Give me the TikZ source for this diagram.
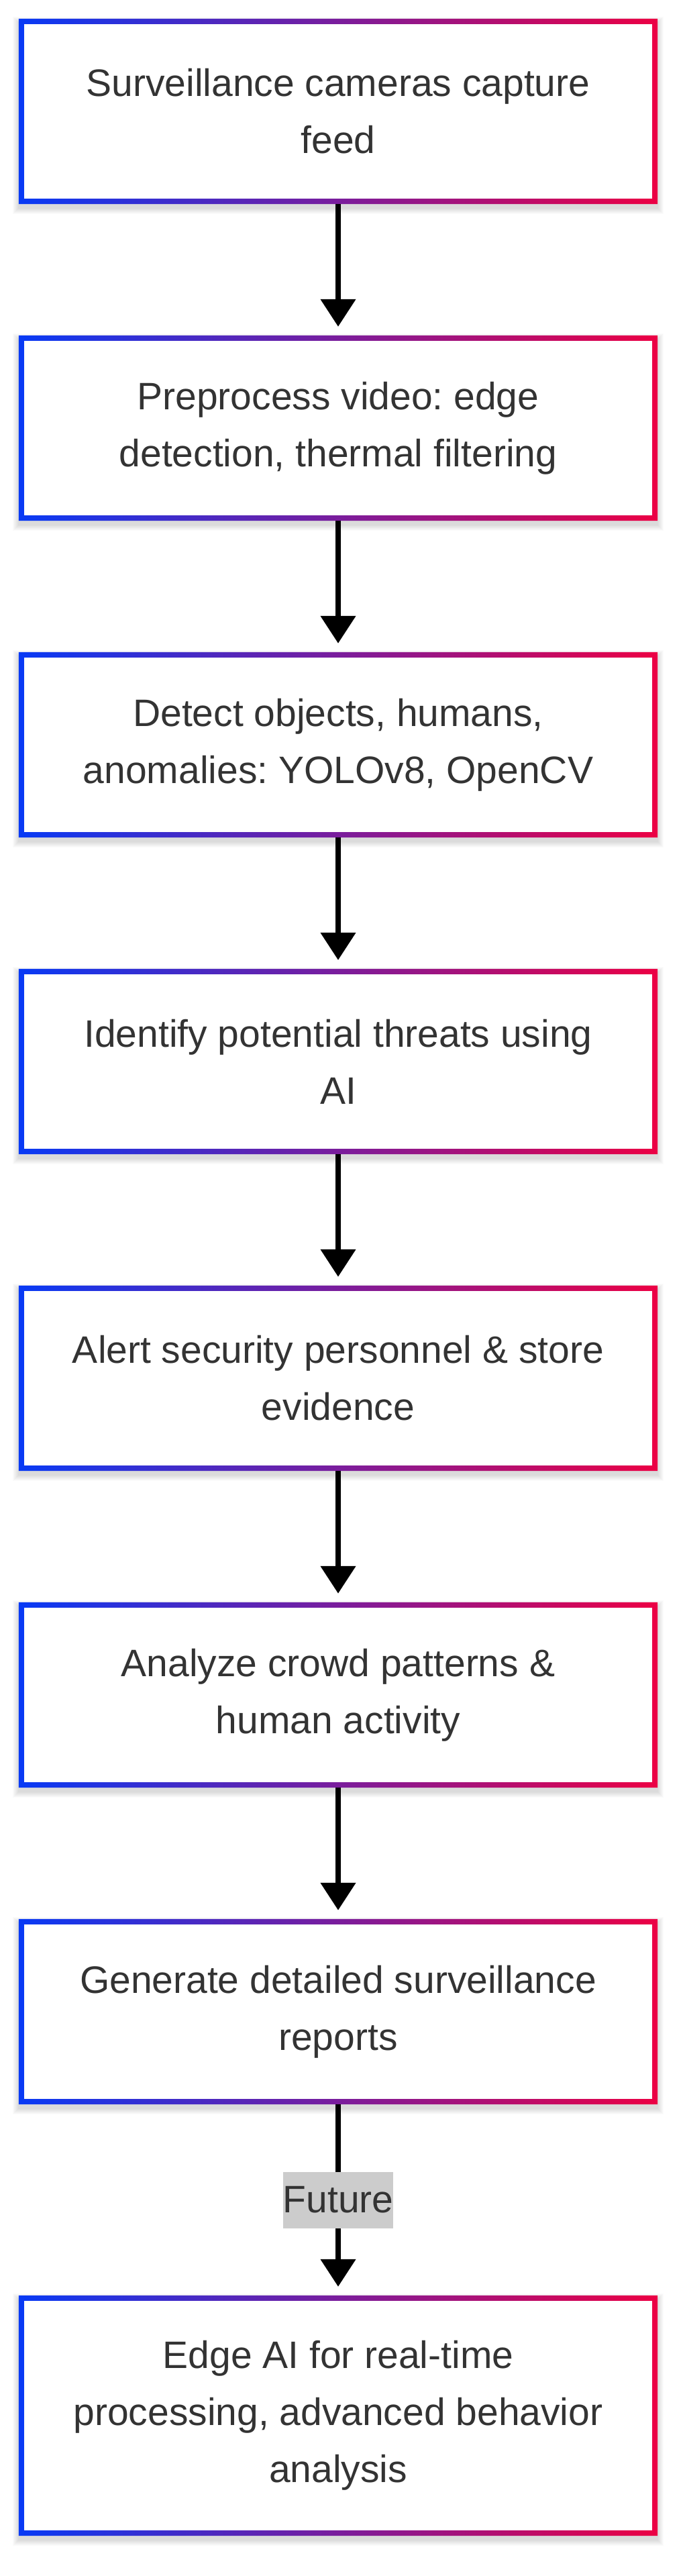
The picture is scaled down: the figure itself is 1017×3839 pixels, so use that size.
\documentclass[tikz,border=0pt]{standalone}
\usepackage{fontspec}
\setmainfont{Liberation Sans}
\usetikzlibrary{arrows.meta,backgrounds}
\definecolor{gblue}{RGB}{8,58,245}
\definecolor{gred}{RGB}{236,0,68}
\definecolor{txtc}{RGB}{51,51,51}
\definecolor{lblbg}{RGB}{204,204,204}
\frenchspacing
\tikzset{
  stepbox/.style={minimum width=952bp, minimum height=276bp, inner sep=0pt,
    align=center, text=txtc, font=\fontsize{57bp}{85bp}\selectfont},
  tallbox/.style={stepbox, minimum height=358bp},
  flowarrow/.style={line width=8bp, black, shorten >=13bp,
    -{Triangle[width=51bp,length=41bp]}},
  flowlabel/.style={fill=lblbg, text=txtc, inner xsep=0pt, inner ysep=0pt,
    minimum height=84bp, font=\fontsize{57bp}{85bp}\selectfont}
}
\begin{document}
\begin{tikzpicture}[x=1bp,y=-1bp]
\useasboundingbox (0,0) rectangle (1017,3839);
\node[stepbox] (n1) at (504,166) {Surveillance cameras capture\\feed};
\node[stepbox] (n2) at (504,638) {Preprocess video: edge\\detection, thermal filtering};
\node[stepbox] (n3) at (504,1110) {Detect objects, humans,\\anomalies: YOLOv8, OpenCV};
\node[stepbox] (n4) at (504,1582) {Identify potential threats using\\AI};
\node[stepbox] (n5) at (504,2054) {Alert security personnel \& store\\evidence};
\node[stepbox] (n6) at (504,2526) {Analyze crowd patterns \&\\human activity};
\node[stepbox] (n7) at (504,2998) {Generate detailed surveillance\\reports};
\node[tallbox] (n8) at (504,3600) {Edge AI for real-time\\processing, advanced behavior\\analysis};
\begin{pgfonlayer}{background}
\fill[white] (0,0) rectangle (1017,3839);
\foreach \n in {n1,n2,n3,n4,n5,n6,n7,n8}{
  \foreach \i in {1,...,9}{
    \fill[black, opacity=0.014] ([shift={(-\i,-\i+6)}]\n.north west) rectangle ([shift={(\i,\i+6)}]\n.south east);
  }
  \fill[white] (\n.north west) rectangle (\n.south east);
  \shade[left color=gblue, right color=gred, even odd rule]
    (\n.north west) rectangle (\n.south east)
    ([shift={(8,8)}]\n.north west) rectangle ([shift={(-8,-8)}]\n.south east);
}
\end{pgfonlayer}
\draw[flowarrow] (n1.south) -- (n2.north);
\draw[flowarrow] (n2.south) -- (n3.north);
\draw[flowarrow] (n3.south) -- (n4.north);
\draw[flowarrow] (n4.south) -- (n5.north);
\draw[flowarrow] (n5.south) -- (n6.north);
\draw[flowarrow] (n6.south) -- (n7.north);
\draw[flowarrow] (n7.south) -- node[flowlabel] (fut) {Future} (n8.north);
\end{tikzpicture}
\end{document}
